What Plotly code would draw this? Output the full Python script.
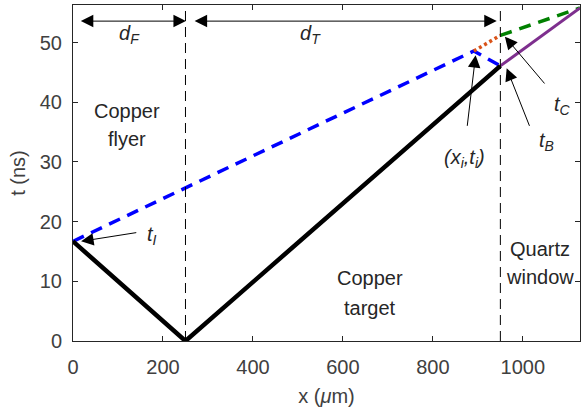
import plotly.graph_objects as go

# Layer boundaries (µm)
boundary_x = [250, 950]

# Wave paths in the x–t plane
shock_x = [0, 250, 950]
shock_t = [16.7, 0.0, 46.1]

flyer_x = [0, 891, 950]
flyer_t = [16.7, 48.6, 46.1]

dotted_x = [891, 950]
dotted_t = [48.6, 51.2]

release_x = [950, 1127]
release_t = [51.2, 55.8]

window_x = [950, 1127]
window_t = [46.1, 55.8]

x_range = [0, 1127]
t_range = [0, 56.3]
x_ticks = [0, 200, 400, 600, 800, 1000]
t_ticks = [0, 10, 20, 30, 40, 50]

FONT = "Liberation Sans, Arial, Helvetica, sans-serif"
INK = "#262626"

fig = go.Figure()

fig.add_trace(go.Scatter(x=flyer_x, y=flyer_t, mode="lines",
                         line=dict(color="#0000ff", width=3.5, dash="12px,8px")))
fig.add_trace(go.Scatter(x=dotted_x, y=dotted_t, mode="lines",
                         line=dict(color="#d95319", width=3.5, dash="3px,3px")))
fig.add_trace(go.Scatter(x=release_x, y=release_t, mode="lines",
                         line=dict(color="#008000", width=3.5, dash="12px,8px")))
fig.add_trace(go.Scatter(x=window_x, y=window_t, mode="lines",
                         line=dict(color="#7e2f8e", width=3)))
fig.add_trace(go.Scatter(x=shock_x, y=shock_t, mode="lines",
                         line=dict(color="black", width=4.5)))

for bx in boundary_x:
    fig.add_shape(type="line", xref="x", yref="paper", x0=bx, x1=bx, y0=0, y1=1,
                  line=dict(color="black", width=1, dash="10px,6px"), layer="above")

def arrow(x, y, ax, ay, both=False):
    fig.add_annotation(x=x, y=y, ax=ax, ay=ay, xref="x", yref="y", axref="x", ayref="y",
                       text="", showarrow=True, arrowhead=2, arrowsize=2.5, arrowwidth=1,
                       arrowcolor="black", standoff=0, startstandoff=0,
                       arrowside="end+start" if both else "end", startarrowhead=2,
                       startarrowsize=2.5)

# thickness arrows
arrow(251, 53.6, 14, 53.6, both=True)
arrow(942, 53.6, 267, 53.6, both=True)
# point labels
arrow(18, 16.7, 144, 18.2)
arrow(895, 47.9, 876, 35.8)
arrow(964, 45.7, 1016, 35.8)
arrow(960, 51.0, 1051, 42.9)

def label(x, y, text, size=20):
    fig.add_annotation(x=x, y=y, xref="x", yref="y", text=text, showarrow=False,
                       font=dict(family=FONT, size=size, color=INK), align="center")

label(125, 51.3, "<i>d</i><sub><i>F</i></sub>")
label(527, 51.3, "<i>d</i><sub><i>T</i></sub>")
label(120, 38.6, "Copper")
label(120, 33.9, "flyer")
label(660, 10.5, "Copper")
label(660, 5.5, "target")
label(1038, 15.4, "Quartz")
label(1039, 10.7, "window")
label(176, 17.6, "<i>t</i><sub><i>I</i></sub>")
label(871, 30.6, "<i>(x</i><sub><i>i</i></sub><i>,t</i><sub><i>i</i></sub><i>)</i>")
label(1052, 33.4, "<i>t</i><sub><i>B</i></sub>")
label(1088, 39.5, "<i>t</i><sub><i>C</i></sub>")

axis_common = dict(showline=True, linecolor=INK, linewidth=1, mirror="ticks",
                   ticks="inside", ticklen=5, tickcolor=INK, showgrid=False,
                   zeroline=False, tickfont=dict(family=FONT, size=20, color="#404040"))

fig.update_xaxes(range=x_range, tickvals=x_ticks, ticklabelstandoff=8,
                 title=dict(text="x (<i>μ</i>m)", font=dict(family=FONT, size=20, color="#404040"),
                            standoff=11), **axis_common)
fig.update_yaxes(range=t_range, tickvals=t_ticks, ticklabelstandoff=6,
                 title=dict(text="t (ns)", font=dict(family=FONT, size=20, color="#404040"),
                            standoff=8), **axis_common)

fig.update_layout(width=582, height=416, margin=dict(l=73, r=2, t=5, b=75, autoexpand=False),
                  plot_bgcolor="white", paper_bgcolor="white", showlegend=False)

fig.write_html("out.html")
